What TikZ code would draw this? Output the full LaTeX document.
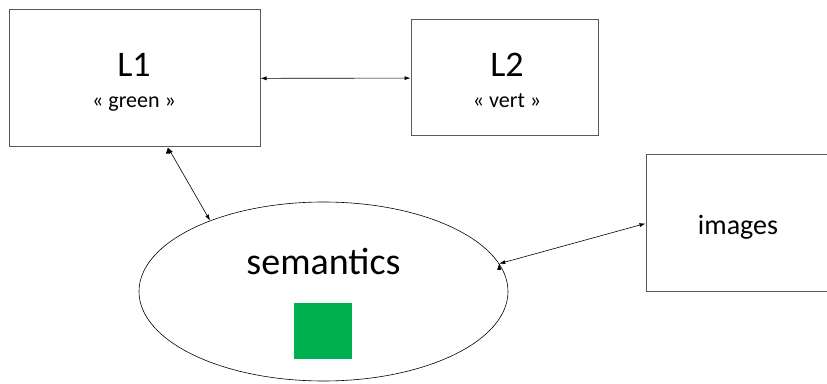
\documentclass[tikz,border=0pt]{standalone}
\usepackage{fontspec}
\setmainfont{Carlito}
\usepackage{tikz}
\usetikzlibrary{shapes.geometric}
\usetikzlibrary{arrows.meta}
\definecolor{boxgray}{HTML}{595959}
\definecolor{semgreen}{HTML}{00B050}

\begin{document}
\begin{tikzpicture}[x=1pt,y=1pt,
    box/.style={draw=boxgray,line width=1pt,minimum width=#1,inner sep=0pt},
    link/.style={draw=black,line width=0.6pt,{Latex[length=6pt,width=4pt]}-{Latex[length=6pt,width=4pt]}}]
    \useasboundingbox (0,0) rectangle (827,383);
    \node[box=251pt,minimum height=137pt] (L1) at (134.5,304.5) {};
    \node[box=187pt,minimum height=116pt] (L2) at (504.5,305) {};
    \node[box=184pt,minimum height=137pt] (Img) at (738,159.5) {};
    \node[draw,ellipse,line width=0.6pt,inner sep=0pt,minimum width=369pt,minimum height=179pt] (Sem) at (323.5,91.5) {};
    \node[fill=semgreen,inner sep=0pt,minimum width=58pt,minimum height=56pt] (Sq) at (323,52) {};
    %% texts
    \node[anchor=base,font=\fontsize{36}{40}\selectfont] (L1t) at (134,306) {L1};
    \node[anchor=base,font=\fontsize{22}{26}\selectfont] (L1w) at (134,275) {« green »};
    \node[anchor=base,font=\fontsize{36}{40}\selectfont] (L2t) at (507,306) {L2};
    \node[anchor=base,font=\fontsize{22}{26}\selectfont] (L2w) at (507,275) {« vert »};
    \node[anchor=base,font=\fontsize{38}{42}\selectfont] (SemT) at (323.5,108) {semantics};
    \node[anchor=base,font=\fontsize{28}{32}\selectfont] (ImgT) at (738,148) {images};
    %% connectors
    \path[link] (L1) edge (L2);
    \path[link] ([xshift=33.5pt]L1.south) edge (Sem.148);
    \path[link] (Sem.9) edge (Img.west);
\end{tikzpicture}
\end{document}
